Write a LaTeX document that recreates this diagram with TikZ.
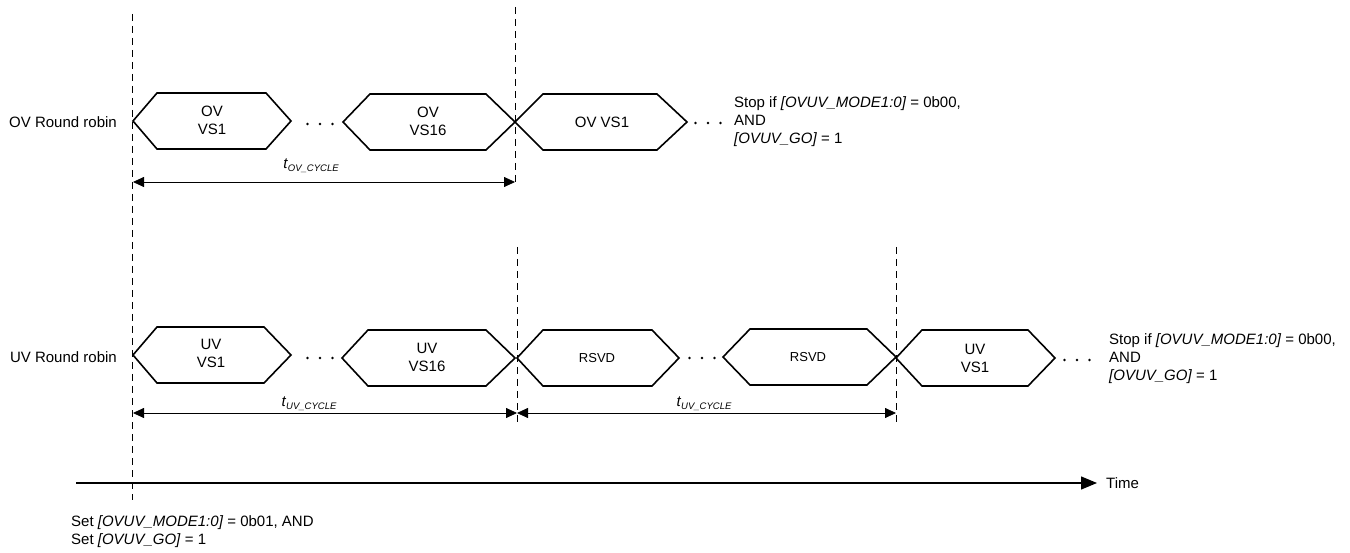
\documentclass[tikz,border=0pt]{standalone}
\usepackage{fontspec}
\setmainfont{Liberation Sans}
\usetikzlibrary{arrows.meta}
\tikzset{
  hexline/.style={line width=1.6pt, line join=miter},
  guide/.style={line width=0.8pt, dash pattern=on 7pt off 5pt},
  dimline/.style={line width=0.8pt, {Triangle[length=11pt,width=10pt]}-{Triangle[length=11pt,width=10pt]}},
  txt/.style={inner sep=0pt, font=\fontsize{15}{18}\selectfont},
  stxt/.style={inner sep=0pt, font=\fontsize{15}{18}\selectfont},
  rtxt/.style={inner sep=0pt, font=\fontsize{13}{16}\selectfont},
  lbl/.style={inner sep=0pt, font=\fontsize{15}{18}\selectfont},
  dotmark/.style={fill=black, draw=none, circle, minimum size=2.6pt, inner sep=0pt},
}
\newcommand{\myhex}[5]{%
  \draw[hexline] (#1,#5) -- (#2,#5-28) -- (#3,#5-28) -- (#4,#5) -- (#3,#5+28) -- (#2,#5+28) -- cycle;}
\newcommand{\mydots}[3]{%
  \node[dotmark] (#1a) at (#2-12.5,#3) {};
  \node[dotmark] (#1b) at (#2,#3) {};
  \node[dotmark] (#1c) at (#2+12.5,#3) {};}
\begin{document}
\begin{tikzpicture}[x=1pt,y=-1pt]
\useasboundingbox (0,0) rectangle (1350,553);

% guide lines
\coordinate (g1t) at (132.5,14);  \coordinate (g1b) at (132.5,500);
\coordinate (g2t) at (515,7);     \coordinate (g2b) at (515,186);
\coordinate (g3t) at (517,247);   \coordinate (g3b) at (517,423);
\coordinate (g4t) at (896,247);   \coordinate (g4b) at (896,423);
\draw[guide] (g1t) -- (g1b);
\draw[guide] (g2t) -- (g2b);
\draw[guide] (g3t) -- (g3b);
\draw[guide] (g4t) -- (g4b);

% row labels
\node[stxt, anchor=east] (ovrr) at (117,122) {OV Round robin};
\node[stxt, anchor=east] (uvrr) at (117,357) {UV Round robin};

% OV row
\myhex{133}{157}{266}{291}{121}
\node[txt, align=center] (ov1) at (212,120) {OV\\VS1};
\mydots{ovd1}{320}{124}
\myhex{343}{370}{486}{515}{122}
\node[txt, align=center] (ov16) at (428,121) {OV\\VS16};
\myhex{515}{543}{657}{687}{122}
\node[txt] (ov1b) at (602,122) {OV VS1};
\mydots{ovd2}{708}{123}
\node[txt, anchor=west, align=left] (ovstop) at (734,122)
  {Stop if \textit{[OVUV\_MODE1:0]} = 0b00,\\AND\\\textit{[OVUV\_GO]} = 1};

% OV dimension
\coordinate (ova) at (133,182);
\coordinate (ovb) at (515,182);
\draw[dimline] (ova) -- (ovb);
\node[lbl] (tov) at (311,166) {\textit{t}\raisebox{-3pt}{\fontsize{9.5}{11}\selectfont\textit{OV\_CYCLE}}};

% UV row
\myhex{133}{157}{264}{291}{355}
\node[txt, align=center] (uv1) at (211,353) {UV\\VS1};
\mydots{uvd1}{320}{358}
\myhex{342}{368}{486}{515}{358}
\node[txt, align=center] (uv16) at (427,357) {UV\\VS16};
\myhex{517}{543}{652}{679}{358}
\node[rtxt] (rs1) at (597,358) {RSVD};
\mydots{uvd2}{702}{358}
\myhex{723}{750}{867}{896}{357}
\node[rtxt] (rs2) at (808,357) {RSVD};
\myhex{896}{922}{1028}{1055}{358}
\node[txt, align=center] (uv1b) at (975,358) {UV\\VS1};
\mydots{uvd3}{1077}{360}
\node[txt, anchor=west, align=left] (uvstop) at (1109,359)
  {Stop if \textit{[OVUV\_MODE1:0]} = 0b00,\\AND\\\textit{[OVUV\_GO]} = 1};

% UV dimensions
\coordinate (uva) at (133,413);
\coordinate (uvb) at (517,413);
\coordinate (uvc) at (896,413);
\draw[dimline] (uva) -- (uvb);
\draw[dimline] (uvb) -- (uvc);
\node[lbl] (tuv1) at (309,404) {\textit{t}\raisebox{-3pt}{\fontsize{9.5}{11}\selectfont\textit{UV\_CYCLE}}};
\node[lbl] (tuv2) at (704,404) {\textit{t}\raisebox{-3pt}{\fontsize{9.5}{11}\selectfont\textit{UV\_CYCLE}}};

% time axis
\coordinate (t0) at (76,483);
\node[txt, anchor=west] (time) at (1106,483) {Time};
\draw[line width=1.3pt, -{Triangle[length=16pt,width=13pt]}] (t0) -- (time.west -| 1097,0);

% set text
\node[txt, anchor=north west, align=left] (settxt) at (71,515)
  {Set \textit{[OVUV\_MODE1:0]} = 0b01, AND\\Set \textit{[OVUV\_GO]} = 1};
\end{tikzpicture}
\end{document}
